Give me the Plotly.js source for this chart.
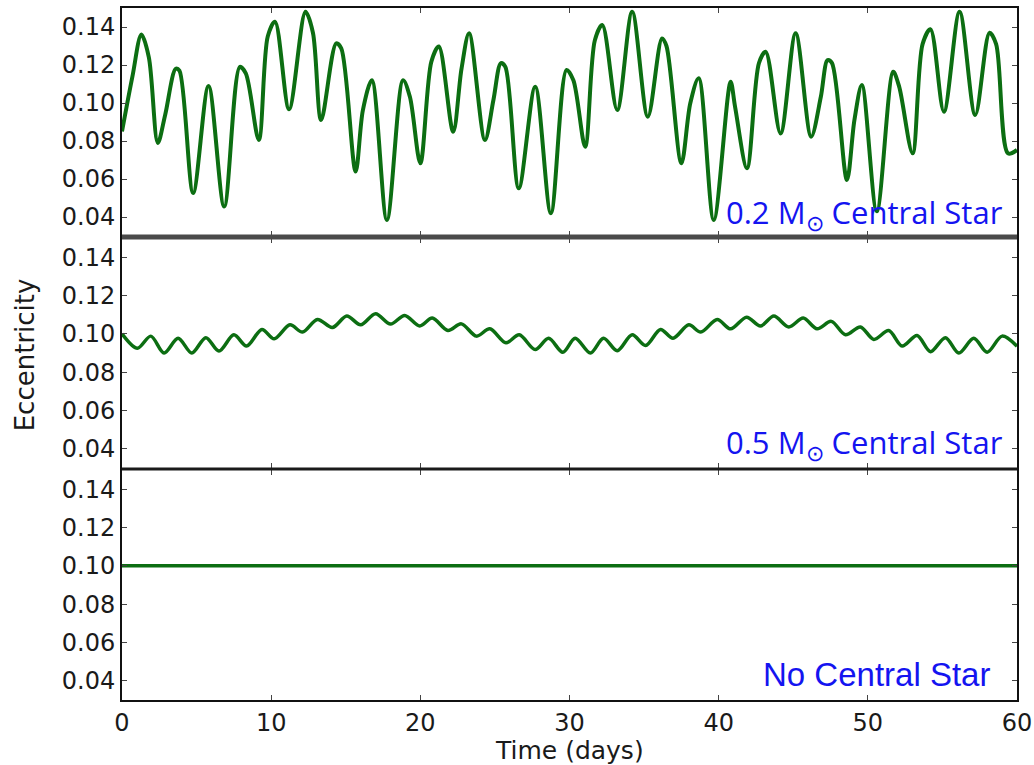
<!DOCTYPE html>
<html>
<head>
<meta charset="utf-8">
<script src="https://cdn.plot.ly/plotly-3.0.1.min.js"></script>
<style>html,body{margin:0;padding:0;background:#fff;}#chart{width:1034px;height:765px;}</style>
</head>
<body>
<div id="chart"></div>
<script>
// ---- data ----
var topDays = [0,0.7,1.3,1.8,2.4,2.9,3.6,3.85,4.77,5.8,6.85,7.9,8.3,9.17,9.77,10.26,11.2,12.3,12.8,13.35,14.36,14.7,15.66,16.15,16.75,17.76,18.84,19.3,20.0,20.74,21.24,22.2,22.76,23.27,24.33,24.9,25.4,25.7,26.6,27.7,28.75,29.8,30.26,31.05,31.7,32.2,33.2,34.2,35.25,36.2,36.5,37.5,38.1,38.66,39.67,40.8,41.1,41.9,42.7,43.15,44.15,45.16,46.2,46.85,47.3,47.6,48.6,49.1,49.6,50.6,51.7,52.1,53.0,53.67,54.2,55.1,56.15,57.2,58.16,58.6,59.4,60];
var topEcc  = [0.085,0.114,0.136,0.124,0.079,0.094,0.118,0.117,0.0526,0.109,0.0455,0.119,0.1156,0.0805,0.135,0.1428,0.0967,0.148,0.137,0.091,0.1314,0.1288,0.0639,0.0963,0.112,0.0384,0.112,0.1033,0.0683,0.1218,0.1297,0.0849,0.118,0.1367,0.0805,0.1016,0.121,0.119,0.0551,0.1086,0.042,0.1174,0.112,0.077,0.133,0.141,0.0963,0.148,0.0928,0.134,0.130,0.0683,0.100,0.113,0.0384,0.1112,0.098,0.0657,0.121,0.127,0.084,0.1367,0.0823,0.1033,0.1226,0.121,0.0595,0.091,0.1095,0.043,0.1164,0.1086,0.0735,0.131,0.1388,0.0954,0.148,0.0937,0.137,0.131,0.0735,0.0753];

var midDays = [0,1.03,1.93,2.82,3.76,4.68,5.62,6.5,7.5,8.35,9.38,10.2,11.26,12.1,13.1,14.1,15.07,16.0,17.0,18.0,18.95,19.96,20.8,21.85,22.75,23.76,24.66,25.74,26.63,27.7,28.6,29.55,30.38,31.4,32.28,33.2,34.2,35.1,36.1,36.94,38.0,38.8,39.9,40.8,41.87,42.8,43.7,44.7,45.67,46.6,47.55,48.5,49.5,50.4,51.4,52.3,53.3,54.2,55.2,56.1,57.1,58.0,59.0,60];
var midEcc  = [0.100,0.0925,0.0988,0.0900,0.0977,0.0900,0.0980,0.0910,0.0995,0.0936,0.1023,0.0974,0.1047,0.1009,0.1075,0.1033,0.1093,0.1047,0.1105,0.1051,0.1096,0.1041,0.1082,0.1017,0.1052,0.0988,0.1026,0.0953,0.0995,0.0918,0.0977,0.0904,0.0977,0.0900,0.0977,0.0912,0.0995,0.0939,0.1023,0.0977,0.1047,0.1009,0.1075,0.1026,0.1087,0.1041,0.1093,0.1036,0.1082,0.1026,0.1065,0.0995,0.1036,0.0971,0.1017,0.0936,0.0991,0.0907,0.0980,0.0900,0.0977,0.0904,0.0988,0.0935];

var flatDays = [0,60];
var flatEcc  = [0.10,0.10];

var yTickVals = [0.04,0.06,0.08,0.10,0.12,0.14];
var xTickVals = [0,10,20,30,40,50,60];
var panelLabels = ['0.2 M<sub>⊙</sub> Central Star','0.5 M<sub>⊙</sub> Central Star','No Central Star'];
var xTitle = 'Time (days)';
var yTitle = 'Eccentricity';

// ---- styling ----
var green = '#0c6e12';
var blue = '#1414f0';
var tickFont = {family:'DejaVu Sans', size:24, color:'#1a1a1a'};

function xax(anchor, showLabels){
  return {anchor:anchor, range:[0,60], tickvals:xTickVals, ticks:'inside', ticklen:5, tickwidth:1, tickcolor:'#444',
    showline:true, linecolor:'#111', linewidth:2, mirror:'ticks', showgrid:false, zeroline:false,
    showticklabels:showLabels, tickfont:tickFont, fixedrange:true};
}
function yax(anchor, dom){
  return {anchor:anchor, domain:dom, range:[0.03,0.15], tickvals:yTickVals, tickformat:'.2f', ticks:'inside', ticklen:5, tickwidth:1, tickcolor:'#444',
    showline:true, linecolor:'#111', linewidth:2, mirror:'ticks', showgrid:false, zeroline:false,
    tickfont:tickFont, fixedrange:true};
}

var traces = [
  {x:topDays, y:topEcc, xaxis:'x', yaxis:'y', mode:'lines', line:{color:green, width:4, shape:'spline', smoothing:0.9}, hoverinfo:'skip'},
  {x:midDays, y:midEcc, xaxis:'x2', yaxis:'y2', mode:'lines', line:{color:green, width:3.5, shape:'spline', smoothing:0.9}, hoverinfo:'skip'},
  {x:flatDays, y:flatEcc, xaxis:'x3', yaxis:'y3', mode:'lines', line:{color:green, width:3.5}, hoverinfo:'skip'}
];

var d1=[0.6705,1], d2=[0.3353,0.6676], d3=[0,0.3324];

var layout = {
  width:1034, height:765,
  margin:{l:122, r:17, t:8, b:65},
  paper_bgcolor:'#fff', plot_bgcolor:'#fff',
  showlegend:false,
  xaxis:xax('y', false), yaxis:yax('x', d1),
  xaxis2:xax('y2', false), yaxis2:yax('x2', d2),
  xaxis3:xax('y3', true), yaxis3:yax('x3', d3),
  shapes:[
    {type:'line', xref:'paper', yref:'paper', x0:0, x1:1, y0:0.669, y1:0.669, line:{color:'#4a4a4a', width:5}, layer:'above'},
    {type:'line', xref:'paper', yref:'paper', x0:0, x1:1, y0:0.3338, y1:0.3338, line:{color:'#1a1a1a', width:3}, layer:'above'}
  ],
  annotations:[
    {xref:'paper', yref:'paper', x:0.9866, y:0.703, xanchor:'right', yanchor:'middle', text:panelLabels[0], showarrow:false, font:{family:'Open Sans', size:31, color:blue}},
    {xref:'paper', yref:'paper', x:0.9866, y:0.370, xanchor:'right', yanchor:'middle', text:panelLabels[1], showarrow:false, font:{family:'Open Sans', size:31, color:blue}},
    {xref:'paper', yref:'paper', x:0.972, y:0.037, xanchor:'right', yanchor:'middle', text:panelLabels[2], showarrow:false, font:{family:'Liberation Sans', size:33, color:blue}},
    {xref:'paper', yref:'paper', x:0.5, y:-0.073, xanchor:'center', yanchor:'middle', text:xTitle, showarrow:false, font:{family:'DejaVu Sans', size:25, color:'#1a1a1a'}},
    {xref:'paper', yref:'paper', x:-0.108, y:0.4986, xanchor:'center', yanchor:'middle', textangle:-90, text:yTitle, showarrow:false, font:{family:'DejaVu Sans', size:26, color:'#1a1a1a'}}
  ]
};

Plotly.newPlot('chart', traces, layout, {staticPlot:true, displayModeBar:false});
</script>
</body>
</html>
